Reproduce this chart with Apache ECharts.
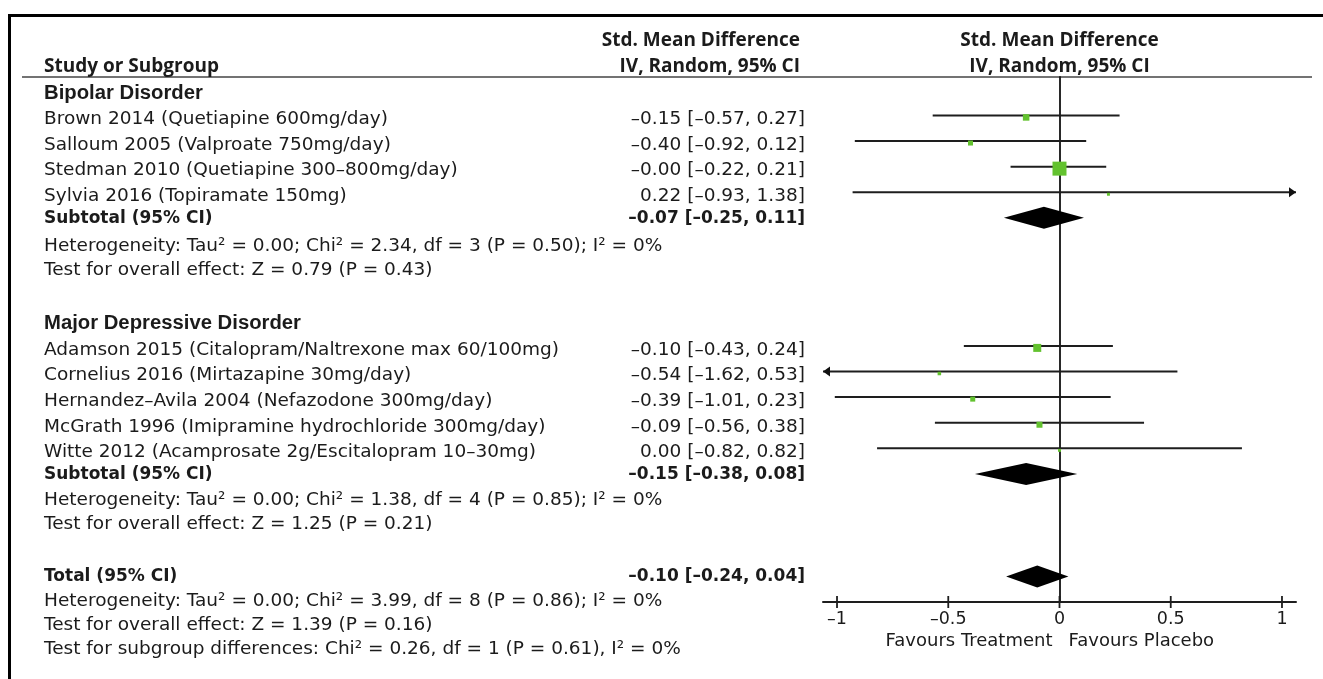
<!DOCTYPE html>
<html>
<head>
<meta charset="utf-8">
<script src="https://cdn.jsdelivr.net/npm/echarts@6/dist/echarts.min.js"></script>
<style>
html,body{margin:0;padding:0;background:#fff;}
#chart{width:1323px;height:679px;}
</style>
</head>
<body>
<div id="chart"></div>
<script>
// ---------------- DATA ----------------
const groupNames = ['Bipolar Disorder', 'Major Depressive Disorder'];

const bipolarStudies = [
  'Brown 2014 (Quetiapine 600mg/day)',
  'Salloum 2005 (Valproate 750mg/day)',
  'Stedman 2010 (Quetiapine 300–800mg/day)',
  'Sylvia 2016 (Topiramate 150mg)'
];
const bipolarEst = [-0.15, -0.40, -0.00, 0.22];
const bipolarLo  = [-0.57, -0.92, -0.22, -0.93];
const bipolarHi  = [0.27, 0.12, 0.21, 1.38];
const bipolarWeight = [9.6, 5.7, 44.4, 2.0];   // % weight

const mddStudies = [
  'Adamson 2015 (Citalopram/Naltrexone max 60/100mg)',
  'Cornelius 2016 (Mirtazapine 30mg/day)',
  'Hernandez–Avila 2004 (Nefazodone 300mg/day)',
  'McGrath 1996 (Imipramine hydrochloride 300mg/day)',
  'Witte 2012 (Acamprosate 2g/Escitalopram 10–30mg)'
];
const mddEst = [-0.10, -0.54, -0.39, -0.09, 0.00];
const mddLo  = [-0.43, -1.62, -1.01, -0.56, -0.82];
const mddHi  = [0.24, 0.53, 0.23, 0.38, 0.82];
const mddWeight = [14.5, 2.8, 5.7, 8.2, 2.0];

const subtotalEst = [-0.07, -0.15];
const subtotalLo  = [-0.25, -0.38];
const subtotalHi  = [0.11, 0.08];

const totalEst = -0.10, totalLo = -0.24, totalHi = 0.04;

const heterogeneityText = [
  'Heterogeneity: Tau² = 0.00; Chi² = 2.34, df = 3 (P = 0.50); I² = 0%',
  'Heterogeneity: Tau² = 0.00; Chi² = 1.38, df = 4 (P = 0.85); I² = 0%'
];
const overallText = [
  'Test for overall effect: Z = 0.79 (P = 0.43)',
  'Test for overall effect: Z = 1.25 (P = 0.21)'
];
const totalFootText = [
  'Heterogeneity: Tau² = 0.00; Chi² = 3.99, df = 8 (P = 0.86); I² = 0%',
  'Test for overall effect: Z = 1.39 (P = 0.16)',
  'Test for subgroup differences: Chi² = 0.26, df = 1 (P = 0.61), I² = 0%'
];

const tickValues = [-1, -0.5, 0, 0.5, 1];
const favoursLeft = 'Favours Treatment';
const favoursRight = 'Favours Placebo';
const colHeader1 = 'Study or Subgroup';
const colHeader2 = ['Std. Mean Difference', 'IV, Random, 95% CI'];

// ---------------- LAYOUT / STYLE ----------------
const X_MIN = -1.063, X_MAX = 1.063;
const GREEN = '#63c22f';
const TXT = '#1b1b1b';
const BODY_FONT = 'DejaVu Sans';

function fmt(v) {
  const s = Math.abs(v).toFixed(2);
  return (v < 0 || Object.is(v, -0) ? '–' : '') + s;
}
function ciText(e, l, h) {
  return fmt(e) + ' [' + fmt(l) + ', ' + fmt(h) + ']';
}

const groups = [
  {name: groupNames[0], studies: bipolarStudies, est: bipolarEst, lo: bipolarLo, hi: bipolarHi, w: bipolarWeight,
   sub: [subtotalEst[0], subtotalLo[0], subtotalHi[0]], het: heterogeneityText[0], overall: overallText[0]},
  {name: groupNames[1], studies: mddStudies, est: mddEst, lo: mddLo, hi: mddHi, w: mddWeight,
   sub: [subtotalEst[1], subtotalLo[1], subtotalHi[1]], het: heterogeneityText[1], overall: overallText[1]}
];

const studyData = [];    // [est,row,lo,hi,w]
const diamondData = [];  // [est,row,lo,hi]
const textRows = [];     // {row, text, kind, ci}
let row = 0;
const hetRowShift = [[1.12, 2.06], [1.02, 1.96]];
groups.forEach((g, gi) => {
  textRows.push({row: row, text: g.name, kind: 'group'});
  row++;
  g.studies.forEach((s, i) => {
    studyData.push([g.est[i], row, g.lo[i], g.hi[i], g.w[i]]);
    textRows.push({row: row, text: s, kind: 'study', ci: ciText(g.est[i], g.lo[i], g.hi[i])});
    row++;
  });
  diamondData.push([g.sub[0], row, g.sub[1], g.sub[2]]);
  textRows.push({row: row, text: 'Subtotal (95% CI)', kind: 'sum', ci: ciText(g.sub[0], g.sub[1], g.sub[2])});
  textRows.push({row: row + hetRowShift[gi][0], text: g.het, kind: 'foot'});
  textRows.push({row: row + hetRowShift[gi][1], text: g.overall, kind: 'foot'});
  row += 4;
});
const totalRow = 19;
diamondData.push([totalEst, totalRow, totalLo, totalHi]);
textRows.push({row: totalRow, text: 'Total (95% CI)', kind: 'sum', ci: ciText(totalEst, totalLo, totalHi)});
textRows.push({row: totalRow + 0.95, text: totalFootText[0], kind: 'foot'});
textRows.push({row: totalRow + 1.9, text: totalFootText[1], kind: 'foot'});
textRows.push({row: totalRow + 2.85, text: totalFootText[2], kind: 'foot'});

const chart = echarts.init(document.getElementById('chart'), null, {renderer: 'canvas'});

function renderStudy(params, api) {
  const est = api.value(0), r = api.value(1), lo = api.value(2), hi = api.value(3), w = api.value(4);
  const loC = Math.max(lo, X_MIN), hiC = Math.min(hi, X_MAX);
  const p1 = api.coord([loC, r]), p2 = api.coord([hiC, r]), pc = api.coord([est, r]);
  const ch = [{type: 'line', shape: {x1: p1[0], y1: p1[1], x2: p2[0], y2: p2[1]},
               style: {stroke: '#1e1e1e', lineWidth: 2}}];
  if (lo < X_MIN) ch.push({type: 'polygon', shape: {points: [[p1[0], p1[1]], [p1[0] + 7, p1[1] - 5], [p1[0] + 7, p1[1] + 5]]}, style: {fill: '#111'}});
  if (hi > X_MAX) ch.push({type: 'polygon', shape: {points: [[p2[0], p2[1]], [p2[0] - 7, p2[1] - 5], [p2[0] - 7, p2[1] + 5]]}, style: {fill: '#111'}});
  const s = 2.1 * Math.sqrt(w);
  ch.push({type: 'rect', shape: {x: pc[0] - s / 2, y: pc[1] + 2 - s / 2, width: s, height: s}, style: {fill: GREEN}});
  return {type: 'group', children: ch};
}
function renderDiamond(params, api) {
  const est = api.value(0), r = api.value(1), lo = api.value(2), hi = api.value(3);
  const pl = api.coord([lo, r]), pr = api.coord([hi, r]), pc = api.coord([est, r]);
  return {type: 'polygon', shape: {points: [pl, [pc[0], pc[1] - 11], pr, [pc[0], pc[1] + 11]]}, style: {fill: '#000'}};
}
function renderTick(params, api) {
  const p = api.coord([api.value(0), api.value(1)]);
  return {type: 'line', shape: {x1: p[0], y1: p[1] - 6, x2: p[0], y2: p[1] + 6}, style: {stroke: '#1e1e1e', lineWidth: 1.8}};
}

chart.setOption({
  animation: false,
  backgroundColor: '#fff',
  grid: {left: 823, width: 473, top: 77, height: 525, containLabel: false},
  xAxis: {
    type: 'value', min: X_MIN, max: X_MAX,
    axisLine: {show: true, onZero: false, lineStyle: {color: '#1e1e1e', width: 2}},
    axisTick: {show: false},
    splitLine: {show: false},
    axisLabel: {customValues: tickValues, margin: 8, fontSize: 17.5, fontFamily: BODY_FONT, color: TXT,
                formatter: v => (v < 0 ? '–' + Math.abs(v) : String(v))}
  },
  yAxis: {
    type: 'value', inverse: true, min: -0.5, max: 20,
    axisLine: {show: true, onZero: true, lineStyle: {color: '#111', width: 1.8}},
    axisTick: {show: false}, axisLabel: {show: false}, splitLine: {show: false}
  },
  series: [
    {type: 'custom', name: 'studies', renderItem: renderStudy, data: studyData, encode: {x: 0, y: 1}, z: 3},
    {type: 'custom', name: 'pooled', renderItem: renderDiamond, data: diamondData, encode: {x: 0, y: 1}, z: 4},
    {type: 'custom', name: 'ticks', renderItem: renderTick, data: tickValues.map(v => [v, 20]), encode: {x: 0, y: 1}, z: 2}
  ]
});

const yPx = r => chart.convertToPixel({yAxisIndex: 0}, r);
const x0 = chart.convertToPixel({xAxisIndex: 0}, 0);
const g = [];
// frame
g.push({type: 'line', shape: {x1: 8, y1: 15.5, x2: 1323, y2: 15.5}, style: {stroke: '#000', lineWidth: 3}});
g.push({type: 'line', shape: {x1: 9.5, y1: 14, x2: 9.5, y2: 679}, style: {stroke: '#000', lineWidth: 3}});
// header rule
g.push({type: 'line', shape: {x1: 22, y1: 77, x2: 1312, y2: 77}, style: {stroke: '#444', lineWidth: 1.6}});
const HF = 'bold 19px "Open Sans"';
g.push({type: 'text', x: 44, y: 67, style: {text: colHeader1, font: HF, fill: TXT, align: 'left', verticalAlign: 'middle'}});
g.push({type: 'text', x: 800, y: 41, style: {text: colHeader2[0], font: HF, fill: TXT, align: 'right', verticalAlign: 'middle'}});
g.push({type: 'text', x: 800, y: 67, style: {text: colHeader2[1], font: HF, fill: TXT, align: 'right', verticalAlign: 'middle'}});
g.push({type: 'text', x: x0, y: 41, style: {text: colHeader2[0], font: HF, fill: TXT, align: 'center', verticalAlign: 'middle'}});
g.push({type: 'text', x: x0, y: 67, style: {text: colHeader2[1], font: HF, fill: TXT, align: 'center', verticalAlign: 'middle'}});

textRows.forEach(t => {
  let y = yPx(t.row), font;
  if (t.kind === 'group') { y += 3.5; font = 'bold 20.3px "Liberation Sans"'; }
  else if (t.kind === 'study') { y += 4; font = '18.5px "' + BODY_FONT + '"'; }
  else if (t.kind === 'sum') { y += 0.5; font = 'bold 17px "' + BODY_FONT + '"'; }
  else { font = '18.5px "' + BODY_FONT + '"'; }
  g.push({type: 'text', x: 44, y: y, style: {text: t.text, font: font, fill: TXT, align: 'left', verticalAlign: 'middle'}});
  if (t.ci) g.push({type: 'text', x: 805, y: y, style: {text: t.ci, font: font, fill: TXT, align: 'right', verticalAlign: 'middle'}});
});
// favours labels
g.push({type: 'text', x: x0 - 7, y: 641, style: {text: favoursLeft, font: '18px "' + BODY_FONT + '"', fill: TXT, align: 'right', verticalAlign: 'middle'}});
g.push({type: 'text', x: x0 + 9, y: 641, style: {text: favoursRight, font: '18px "' + BODY_FONT + '"', fill: TXT, align: 'left', verticalAlign: 'middle'}});

chart.setOption({graphic: g.map(e => Object.assign({silent: true}, e))});
</script>
</body>
</html>
